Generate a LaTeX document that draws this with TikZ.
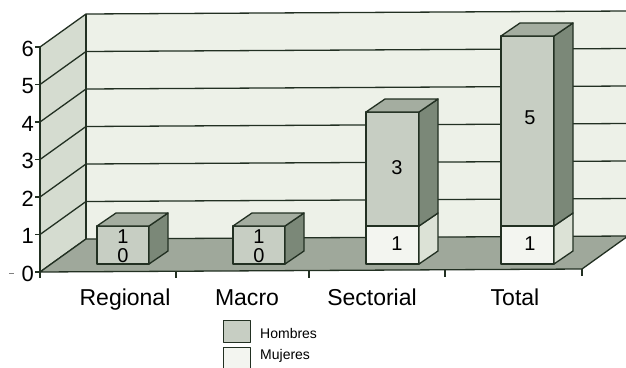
\documentclass[tikz,border=0pt]{standalone}
\usepackage{fontspec}
\setmainfont{Liberation Sans}
\definecolor{backwall}{HTML}{EDF1E8}
\definecolor{leftwall}{HTML}{D5DCD0}
\definecolor{floorc}{HTML}{9FA89B}
\definecolor{hfront}{HTML}{C7CEC3}
\definecolor{hside}{HTML}{7B8878}
\definecolor{htop}{HTML}{A4ADA0}
\definecolor{mfront}{HTML}{F3F5F0}
\definecolor{mside}{HTML}{DCE2D6}
\definecolor{ink}{HTML}{223022}
\newcommand\segface[6]{% x1 x2 ybot ytop front side
  \filldraw[barline,fill=#5] (#1,#3) rectangle (#2,#4);
  \filldraw[barline,fill=#6] (#2,#3) -- ({#2+19},{#3-13}) -- ({#2+19},{#4-13}) -- (#2,#4) -- cycle;}
\newcommand\segtop[3]{% x1 x2 ytop
  \filldraw[barline,fill=htop] (#1,#3) -- (#2,#3) -- ({#2+19},{#3-13}) -- ({#1+19},{#3-13}) -- cycle;}
\begin{document}
\begin{tikzpicture}[x=1pt,y=-1pt,line join=round,
  gridline/.style={draw=ink,line width=1.3pt},
  barline/.style={draw=ink,line width=1.3pt},
  catlabel/.style={font=\fontsize{23}{23}\selectfont,anchor=base,inner sep=0pt},
  axlabel/.style={font=\fontsize{22}{22}\selectfont,anchor=east,inner sep=0pt},
  vallabel/.style={font=\fontsize{20}{20}\selectfont,inner sep=0pt},
  leglabel/.style={font=\fontsize{14}{14}\selectfont,anchor=west,inner sep=0pt}]
\useasboundingbox (0,0) rectangle (626,367);
\fill[white] (0,0) rectangle (626,367);
% back wall
\fill[backwall] (86,14) -- (628,11) -- (628,236) -- (86,239) -- cycle;
\foreach \v in {1,...,6} {\draw[gridline] (86,{239-37.5*\v}) -- (628,{236-37.5*\v});}
% left wall
\fill[leftwall] (40,47) -- (86,14) -- (86,239) -- (40,272) -- cycle;
\foreach \v in {0,...,6} {
  \draw[gridline] (40,{272-37.5*\v}) -- (86,{239-37.5*\v});
  \draw[gridline] (35,{272-37.5*\v}) -- (40,{272-37.5*\v});
}
\draw[gridline] (86,14) -- (86,239);
% floor
\filldraw[gridline,fill=floorc] (40,272) -- (582,269) -- (628,236) -- (86,239) -- cycle;
\draw[gridline] (40,47) -- (40,278);
\foreach \x/\y in {176/271.2,309/270.5,445/269.7,582/269} {\draw[gridline] (\x,\y) -- (\x,{\y+7});}
\draw[gray,line width=1pt] (9,273) -- (14,273);
% axis labels
\foreach \v in {0,...,6} {\node[axlabel] (ax\v) at (34,{273.5-37.5*\v}) {\v};}
% bars
\segface{97}{149}{264}{226}{hfront}{hside}\segtop{97}{149}{226}
\segface{233}{285}{264}{226}{hfront}{hside}\segtop{233}{285}{226}
\segface{366}{419}{264}{226}{mfront}{mside}
\segface{366}{419}{226}{112}{hfront}{hside}\segtop{366}{419}{112}
\segface{501}{554}{264}{226}{mfront}{mside}
\segface{501}{554}{226}{36}{hfront}{hside}\segtop{501}{554}{36}
% value labels
\node[vallabel] (r1) at (123,237) {1};
\node[vallabel] (r0) at (123,256) {0};
\node[vallabel] (m1) at (259,237) {1};
\node[vallabel] (m0) at (259,256) {0};
\node[vallabel] (s3) at (397,168) {3};
\node[vallabel] (s1) at (397,244) {1};
\node[vallabel] (t5) at (530,118) {5};
\node[vallabel] (t1) at (530,244) {1};
% category labels
\node[catlabel] (cr) at (125,305) {Regional};
\node[catlabel] (cm) at (247,305) {Macro};
\node[catlabel] (cs) at (372,305) {Sectorial};
\node[catlabel] (ct) at (515,305) {Total};
% legend
\filldraw[draw=ink,line width=1pt,fill=hfront] (223,320) rectangle (250,342);
\filldraw[draw=ink,line width=1pt,fill=mfront] (223,347) rectangle (250,369);
\node[leglabel] (lh) at (260,333) {Hombres};
\node[leglabel] (lm) at (260,356) {Mujeres};
\end{tikzpicture}
\end{document}
